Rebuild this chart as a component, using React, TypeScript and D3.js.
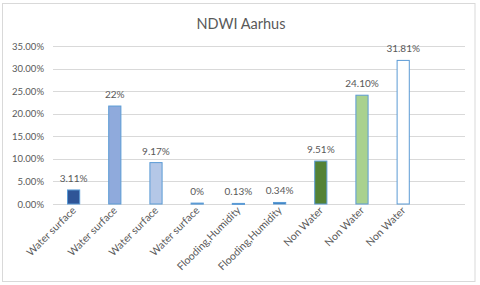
import React from "react";
import * as d3 from "d3";

const categories = ["Water surface", "Water surface", "Water surface", "Water surface", "Flooding,Humidity", "Flooding,Humidity", "Non Water", "Non Water", "Non Water", ""];
const values = [0.0311, 0.217, 0.0917, 0.002, 0.0013, 0.0034, 0.0951, 0.241, 0.3181, null];
const valueLabels = ["3.11%", "22%", "9.17%", "0%", "0.13%", "0.34%", "9.51%", "24.10%", "31.81%", ""];
const fills = ["#2F5597", "#8FAADC", "#B4C7E7", "#5B9BD5", "#9DC3E6", "#2E75B6", "#548235", "#A9D18E", "#FFFFFF", "none"];
const yTicks = [0, 0.05, 0.1, 0.15, 0.2, 0.25, 0.3, 0.35];
const title = "NDWI Aarhus";

export default function App() {
  const W = 480, H = 285;
  const left = 53, right = 465, top = 46, bottom = 204;
  const x = d3.scaleBand<number>().domain(d3.range(categories.length)).range([left, right]).paddingInner(0.68).paddingOuter(0.34);
  const y = d3.scaleLinear().domain([0, 0.35]).range([bottom, top]);
  const fmt = d3.format(".2%");
  const font = "Lato, 'Open Sans', sans-serif";
  const gray = "#595959";
  return (
    <div style={{ position: "absolute", left: 0, top: 0 }}>
      <svg width={W} height={H} style={{ display: "block" }} fontFamily={font}>
        <rect x={0} y={0} width={W} height={H} fill="#fff" />
        <rect x={2.5} y={3.5} width={472.5} height={278} fill="#fff" stroke="#D9D9D9" />
        <text x={241} y={29} textAnchor="middle" fontSize={14.5} fill={gray}>{title}</text>
        {yTicks.map((t) => (
          <g key={t}>
            <line x1={left} x2={right} y1={Math.round(y(t)) + 0.5} y2={Math.round(y(t)) + 0.5} stroke="#D9D9D9" />
            <text x={44} y={y(t) + 3.5} textAnchor="end" fontSize={9.5} fill={gray}>{fmt(t)}</text>
          </g>
        ))}
        {values.map((v, i) => v == null ? null : (
          <g key={i}>
            <rect x={x(i)! + 0.5} y={y(v)} width={x.bandwidth() - 1} height={Math.max(bottom - y(v), 1)} fill={fills[i]} stroke="#5B9BD5" strokeWidth={1} />
            <text x={x(i)! + x.bandwidth() / 2} y={y(v) - 8} textAnchor="middle" fontSize={10} fill={gray}>{valueLabels[i]}</text>
          </g>
        ))}
        {categories.map((c, i) => {
          const cx = x(i)! + x.bandwidth() / 2 + 3;
          const cy = 211;
          return (
            <text key={i} x={cx} y={cy} transform={`rotate(-45 ${cx} ${cy})`} textAnchor="end" fontSize={10.5} fill={gray}>{c}</text>
          );
        })}
      </svg>
    </div>
  );
}
